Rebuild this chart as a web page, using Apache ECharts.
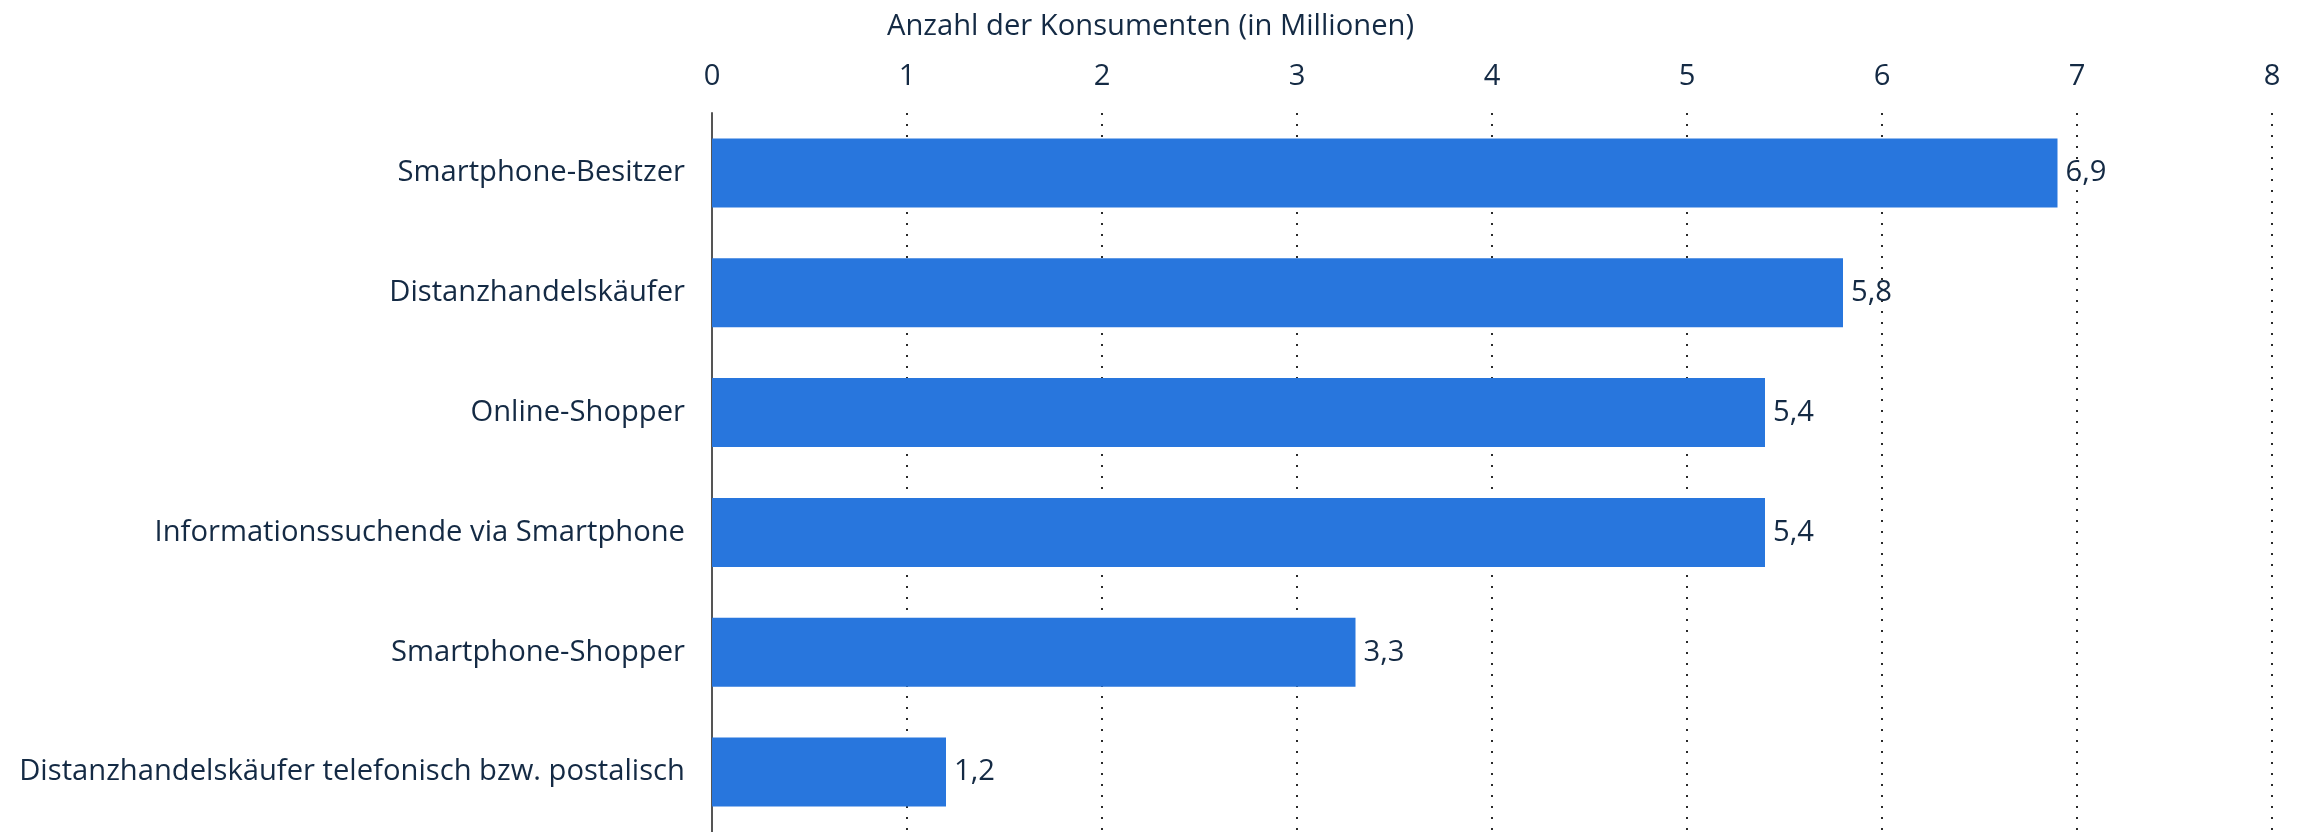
<!DOCTYPE html>
<html>
<head>
<meta charset="utf-8">
<script src="https://cdn.jsdelivr.net/npm/echarts@6/dist/echarts.min.js"></script>
<style>html,body{margin:0;padding:0;background:#fff}#c{width:2301px;height:832px}</style>
</head>
<body>
<div id="c"></div>
<script>
const categories = [
  "Smartphone-Besitzer",
  "Distanzhandelskäufer",
  "Online-Shopper",
  "Informationssuchende via Smartphone",
  "Smartphone-Shopper",
  "Distanzhandelskäufer telefonisch bzw. postalisch"
];
const values = [6.9, 5.8, 5.4, 5.4, 3.3, 1.2];
const axisTitle = "Anzahl der Konsumenten (in Millionen)";

const textColor = "#142a44";
const font = "Open Sans";
const fs = 29.2;
const chart = echarts.init(document.getElementById('c'), null, {renderer: 'canvas'});
chart.setOption({
  animation: false,
  title: {
    text: axisTitle, left: 'center', top: 7,
    textStyle: {color: textColor, fontFamily: font, fontSize: fs, fontWeight: 'normal'}
  },
  grid: {left: 712, right: 29, top: 113, bottom: 0, containLabel: false},
  xAxis: {
    type: 'value', position: 'top', min: 0, max: 8, interval: 1,
    axisLine: {show: false}, axisTick: {show: false},
    axisLabel: {color: textColor, fontFamily: font, fontSize: fs, margin: 22},
    splitLine: {show: true, lineStyle: {color: '#2a2a2a', width: 2, type: [2, 9]}}
  },
  yAxis: {
    type: 'category', data: categories, inverse: true,
    axisLine: {show: true, lineStyle: {color: '#555', width: 2}},
    axisTick: {show: false},
    axisLabel: {color: textColor, fontFamily: font, fontSize: fs, margin: 27}
  },
  series: [{
    type: 'bar', data: values, barWidth: 69,
    itemStyle: {color: '#2876dd'},
    label: {
      show: true, position: 'right', distance: 8,
      color: textColor, fontFamily: font, fontSize: fs,
      formatter: p => String(p.value).replace('.', ',')
    }
  }]
});
</script>
</body>
</html>
